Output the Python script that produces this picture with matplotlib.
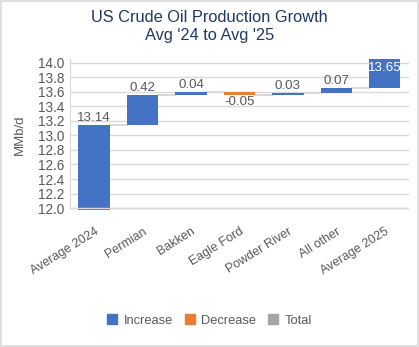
"""
plot.py
-------
Waterfall of US crude oil production growth, Avg '24 to Avg '25.
Output: out.png
"""

import matplotlib.patches as mpatches
import matplotlib.pyplot as plt
import numpy as np

# ---------------------------------------------------------------------------
# Data
# ---------------------------------------------------------------------------

CATEGORIES = ["Average 2024", "Permian", "Bakken", "Eagle Ford",
              "Powder River", "All other", "Average 2025"]
CHANGES    = [13.14, 0.42, 0.04, -0.05, 0.03, 0.07, 13.65]
LABELS     = ["13.14", "0.42", "0.04", "-0.05", "0.03", "0.07", "13.65"]
Y_TICKS    = [12.0, 12.2, 12.4, 12.6, 12.8, 13.0, 13.2, 13.4, 13.6, 13.8, 14.0]

# ---------------------------------------------------------------------------
# Style
# ---------------------------------------------------------------------------

BLUE   = "#4472C4"
ORANGE = "#ED7D31"
GREY   = "#A5A5A5"
TEXT   = "#595959"
GRID   = "#D9D9D9"
NAVY   = "#1F3864"

plt.rcParams.update({
    "font.family": ["Liberation Sans", "DejaVu Sans"],
    "font.size": 9,
})

Y_MIN, Y_MAX = 11.97, 14.05


def main():
    fig = plt.figure(figsize=(4.19, 3.47), dpi=100)
    ax = fig.add_axes([0.167, 0.394, 0.809, 0.436])

    x = np.arange(len(CATEGORIES))
    w = 0.65

    # bottoms / tops of each floating bar
    ends = np.cumsum(CHANGES)
    starts = np.concatenate([[0.0], ends[:-1]])
    colors = [BLUE if c >= 0 else ORANGE for c in CHANGES]

    ax.bar(x, np.array(CHANGES), w, bottom=starts, color=colors, zorder=3)

    # connector lines between bars
    for i in range(len(CATEGORIES) - 1):
        ax.plot([x[i] + w / 2, x[i + 1] - w / 2], [ends[i], ends[i]],
                color=GRID, lw=1.5, zorder=2)

    # data labels
    pad = 0.012
    for i, (s, e, lab) in enumerate(zip(starts, ends, LABELS)):
        if i == len(CATEGORIES) - 1:
            ax.text(x[i], Y_MAX - 0.035, lab, ha="center", va="top",
                    color="white", fontsize=9.6, zorder=4)
        elif CHANGES[i] >= 0:
            ax.text(x[i], max(s, e) + pad, lab, ha="center", va="bottom",
                    color=TEXT, fontsize=9.6, zorder=4)
        else:
            ax.text(x[i], min(s, e) - pad, lab, ha="center", va="top",
                    color=TEXT, fontsize=9.6, zorder=4)

    ax.set_xlim(-0.5, len(CATEGORIES) - 0.5)
    ax.set_ylim(Y_MIN, Y_MAX)
    ax.set_yticks(Y_TICKS)
    ax.set_yticklabels([f"{t:.1f}" for t in Y_TICKS])
    for t in Y_TICKS:
        ax.axhline(t, color=GRID, lw=1.0, zorder=1)
    ax.axhline(Y_TICKS[0], color=GRID, lw=1.0, zorder=4)

    ax.set_xticks(x)
    ax.set_xticklabels(CATEGORIES, rotation=32, ha="right",
                       rotation_mode="anchor")
    ax.tick_params(length=0, colors=TEXT, labelsize=9.8, pad=4)
    ax.tick_params(axis="x", pad=11, labelsize=9)

    for side in ["top", "right", "bottom"]:
        ax.spines[side].set_visible(False)
    ax.spines["left"].set_color(GRID)
    ax.spines["left"].set_bounds(Y_TICKS[0], Y_MAX)

    ax.set_ylabel("MMb/d", color=TEXT, fontsize=9.5, labelpad=9)

    fig.text(0.5, 0.951, "US Crude Oil Production Growth", ha="center",
             va="center", fontsize=11.8, color=NAVY)
    fig.text(0.5, 0.899, "Avg '24 to Avg '25", ha="center",
             va="center", fontsize=11.8, color=NAVY)

    legend_els = [
        mpatches.Patch(color=BLUE,   label="Increase"),
        mpatches.Patch(color=ORANGE, label="Decrease"),
        mpatches.Patch(color=GREY,   label="Total"),
    ]
    fig.legend(handles=legend_els, loc="center", bbox_to_anchor=(0.5, 0.076),
               ncol=3, frameon=False, fontsize=9.3, handlelength=0.8,
               handleheight=0.8, handletextpad=0.5, columnspacing=0.9,
               labelcolor=TEXT)

    # light frame round the whole picture
    fig.patches.append(mpatches.Rectangle((0.002, 0.003), 0.995, 0.994,
                                          transform=fig.transFigure,
                                          fill=False, edgecolor=GRID, lw=1.2))

    fig.savefig("out.png", dpi=100)
    plt.close(fig)


if __name__ == "__main__":
    main()
